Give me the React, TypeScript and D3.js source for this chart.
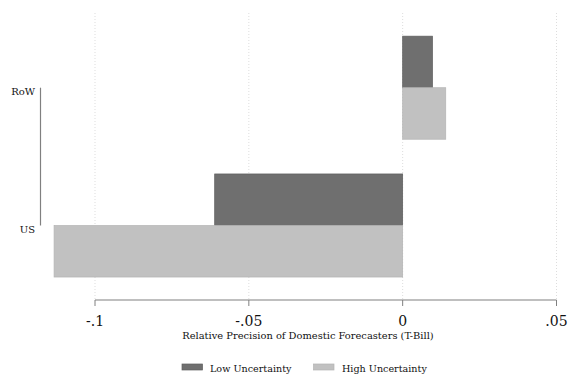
import React from "react";
import * as d3 from "d3";

const regions = ["RoW", "US"];
const lowUncertainty = [0.0097, -0.0611];
const highUncertainty = [0.014, -0.1133];
const xTicks = [-0.1, -0.05, 0, 0.05];
const xTickLabels = ["-.1", "-.05", "0", ".05"];
const seriesNames = ["Low Uncertainty", "High Uncertainty"];
const xTitle = "Relative Precision of Domestic Forecasters (T-Bill)";

const W = 568;
const H = 374;
const FONT = "'DejaVu Serif', 'Liberation Serif', serif";
const DARK = "#6f6f6f";
const DARK_EDGE = "#5e5e5e";
const LIGHT = "#c1c1c1";
const LIGHT_EDGE = "#b4b4b4";
const AXIS = "#808080";

const txt: React.CSSProperties = { fontFamily: FONT };

export default function App() {
  const plotTop = 13;
  const axisY = 300;
  const x = d3.scaleLinear().domain([-0.1, 0.05]).range([95, 556.5]);
  const y = d3.scalePoint<string>().domain(regions).range([87.7, 225.5]);
  const barH = y.step() * 0.374;
  const x0 = x(0);

  const bars = regions.flatMap((r, i) => [
    { key: r + "-low", v: lowUncertainty[i], y0: (y(r) as number) - barH, fill: DARK, stroke: DARK_EDGE },
    { key: r + "-high", v: highUncertainty[i], y0: y(r) as number, fill: LIGHT, stroke: LIGHT_EDGE },
  ]);

  const yTop = y(regions[0]) as number;
  const yBot = y(regions[regions.length - 1]) as number;

  const legend = [
    { name: seriesNames[0], fill: DARK, stroke: DARK_EDGE, sx: 182, tx: 210 },
    { name: seriesNames[1], fill: LIGHT, stroke: LIGHT_EDGE, sx: 313.5, tx: 342 },
  ];

  return (
    <svg
      width={W}
      height={H}
      viewBox={`0 0 ${W} ${H}`}
      style={{ position: "absolute", left: 0, top: 0, background: "#fff" }}
    >
      <rect x={0} y={0} width={W} height={H} fill="#fff" />
      {/* vertical dotted gridlines */}
      {xTicks.map((t) => (
        <line
          key={"g" + t}
          x1={x(t)}
          x2={x(t)}
          y1={plotTop}
          y2={axisY}
          stroke="#d4d4d4"
          strokeWidth={0.8}
          strokeDasharray="1,2"
        />
      ))}
      {/* bars */}
      {bars.map((b) => {
        const xv = x(b.v);
        return (
          <rect
            key={b.key}
            x={Math.min(xv, x0)}
            y={b.y0}
            width={Math.abs(xv - x0)}
            height={barH}
            fill={b.fill}
            stroke={b.stroke}
            strokeWidth={0.7}
          />
        );
      })}
      {/* x axis */}
      <line x1={x(-0.1)} x2={x(0.05)} y1={axisY} y2={axisY} stroke={AXIS} strokeWidth={1.2} />
      {xTicks.map((t, i) => (
        <g key={"t" + t}>
          <line x1={x(t)} x2={x(t)} y1={axisY} y2={axisY + 6} stroke={AXIS} strokeWidth={1} />
          <text x={x(t)} y={325.5} textAnchor="middle" fontSize={14} fill="#111" style={txt}>
            {xTickLabels[i]}
          </text>
        </g>
      ))}
      <text x={308} y={339} textAnchor="middle" fontSize={9.9} fill="#111" style={txt}>
        {xTitle}
      </text>
      {/* y axis */}
      <line x1={40.5} x2={40.5} y1={yTop} y2={yBot} stroke={AXIS} strokeWidth={1.2} />
      {regions.map((r) => (
        <text key={"y" + r} x={35} y={(y(r) as number) + 7} textAnchor="end" fontSize={10} fill="#111" style={txt}>
          {r}
        </text>
      ))}
      {/* legend */}
      {legend.map((l) => (
        <g key={l.name}>
          <rect x={l.sx} y={364} width={20.5} height={6} fill={l.fill} stroke={l.stroke} strokeWidth={0.7} />
          <text x={l.tx} y={372} fontSize={9.6} fill="#111" style={txt}>
            {l.name}
          </text>
        </g>
      ))}
    </svg>
  );
}
